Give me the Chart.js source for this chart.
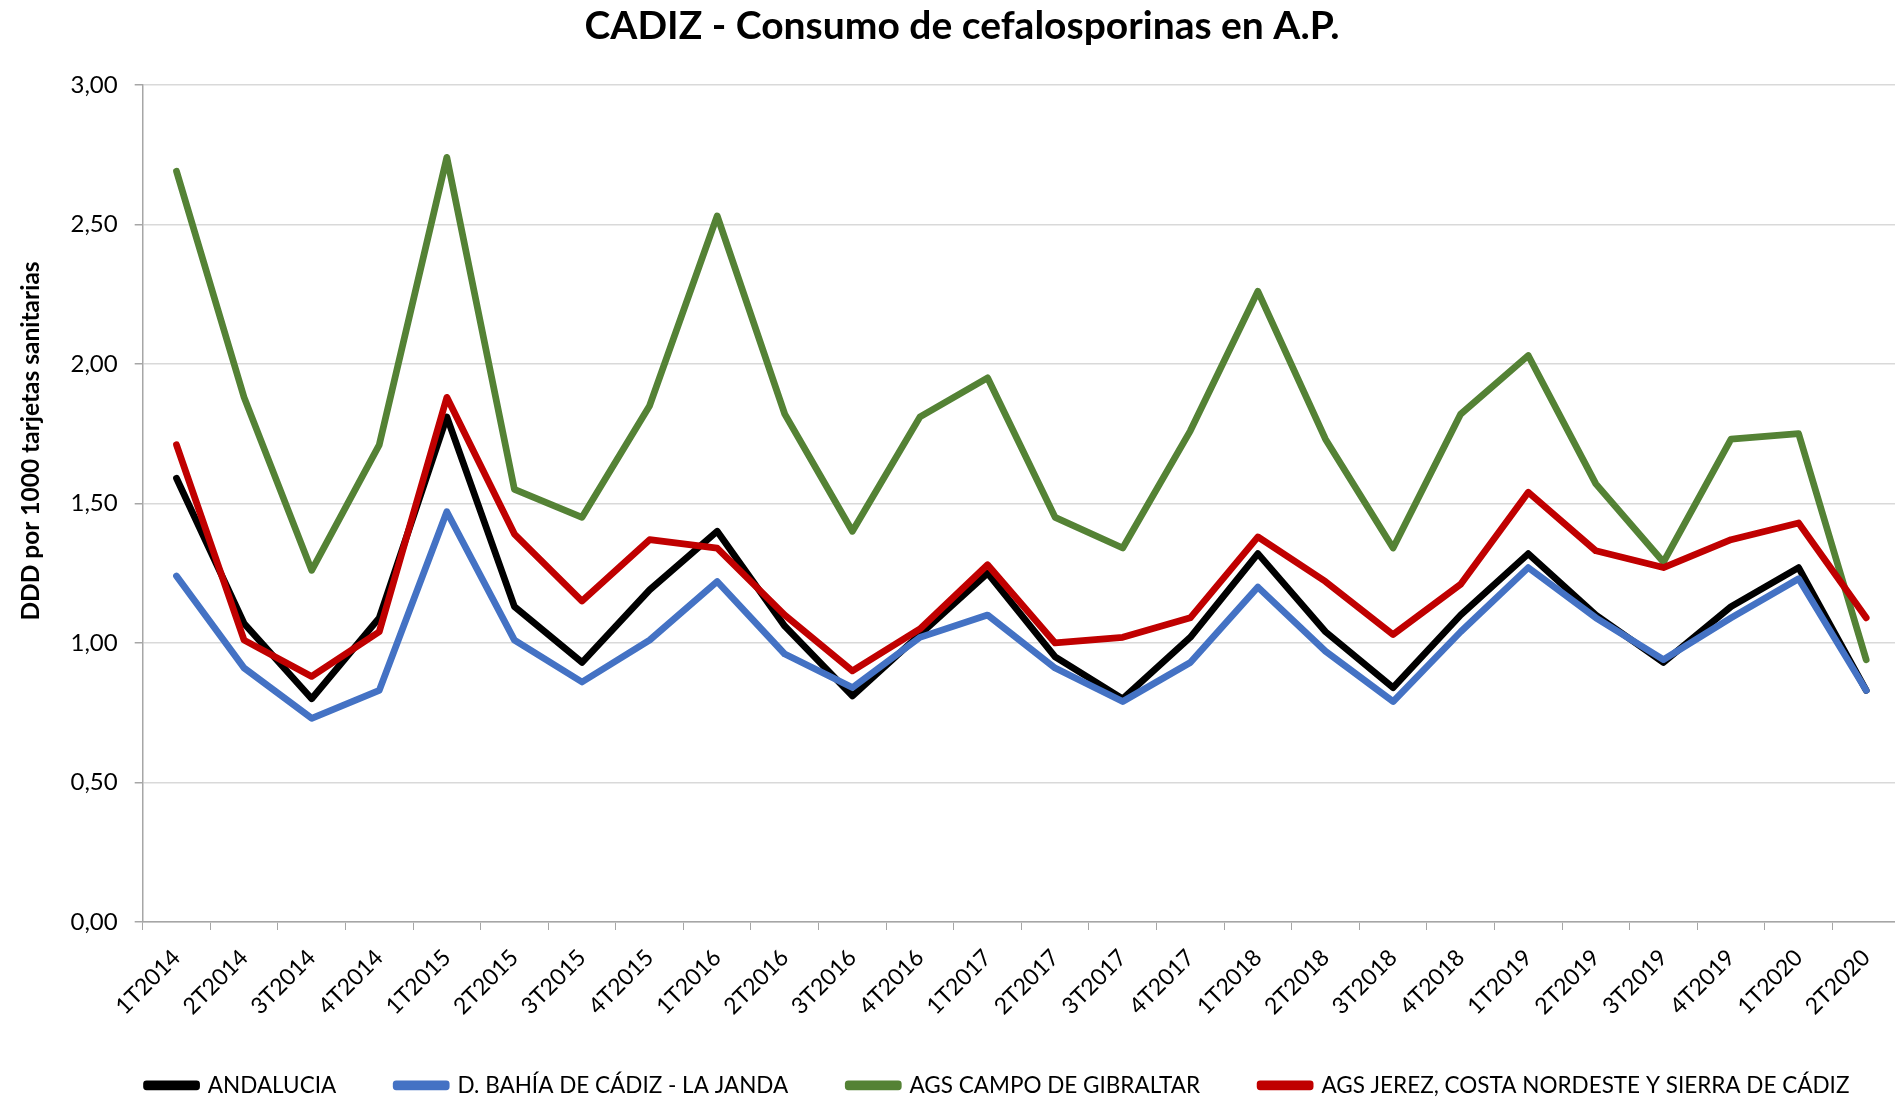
<!DOCTYPE html>
<html>
<head>
<meta charset="utf-8">
<script src="https://cdn.jsdelivr.net/npm/chart.js@4/dist/chart.umd.min.js"></script>
<style>
  html, body { margin: 0; padding: 0; background: #fff; overflow: hidden; }
  /* plot runs a few pixels past the right edge in the original */
  #wrap { width: 1900px; height: 1099px; position: relative; }
</style>
</head>
<body>
<div id="wrap"><canvas id="chart"></canvas></div>
<script>
const labels = ["1T2014", "2T2014", "3T2014", "4T2014", "1T2015", "2T2015", "3T2015", "4T2015",
  "1T2016", "2T2016", "3T2016", "4T2016", "1T2017", "2T2017", "3T2017", "4T2017",
  "1T2018", "2T2018", "3T2018", "4T2018", "1T2019", "2T2019", "3T2019", "4T2019",
  "1T2020", "2T2020"];

const andalucia = [1.59, 1.07, 0.80, 1.09, 1.81, 1.13, 0.93, 1.19, 1.40, 1.06, 0.81, 1.03, 1.25,
  0.95, 0.80, 1.02, 1.32, 1.04, 0.84, 1.10, 1.32, 1.10, 0.93, 1.13, 1.27, 0.83];
const bahiaJanda = [1.24, 0.91, 0.73, 0.83, 1.47, 1.01, 0.86, 1.01, 1.22, 0.96, 0.84, 1.02, 1.10,
  0.91, 0.79, 0.93, 1.20, 0.97, 0.79, 1.04, 1.27, 1.09, 0.94, 1.09, 1.23, 0.83];
const campoGibraltar = [2.69, 1.88, 1.26, 1.71, 2.74, 1.55, 1.45, 1.85, 2.53, 1.82, 1.40, 1.81, 1.95,
  1.45, 1.34, 1.76, 2.26, 1.73, 1.34, 1.82, 2.03, 1.57, 1.29, 1.73, 1.75, 0.94];
const jerezSierra = [1.71, 1.01, 0.88, 1.04, 1.88, 1.39, 1.15, 1.37, 1.34, 1.10, 0.90, 1.05, 1.28,
  1.00, 1.02, 1.09, 1.38, 1.22, 1.03, 1.21, 1.54, 1.33, 1.27, 1.37, 1.43, 1.09];

const seriesNames = ["ANDALUCIA", "D. BAHÍA DE CÁDIZ - LA JANDA", "AGS CAMPO DE GIBRALTAR",
  "AGS JEREZ, COSTA NORDESTE Y SIERRA DE CÁDIZ"];
const seriesColors = ["#000000", "#4472C4", "#548235", "#C00000"];
const seriesData = [andalucia, bahiaJanda, campoGibraltar, jerezSierra];

const FONT = "Lato, 'Open Sans', sans-serif";
const AXIS_GREY = "#a6a6a6";
const yTitleText = "DDD por 1000 tarjetas sanitarias";

// legend: small box in the layout, then moved to where the original has it
const legendTweak = {
  id: "legendTweak",
  beforeInit(chart) {
    const orig = chart.legend.fit;
    chart.legend.fit = function () {
      orig.call(this);
      this.height = 67;
    };
  },
  afterLayout(chart) {
    const lg = chart.legend;
    lg.left += 36;
    lg.right += 36;
    lg.top = 1014;
    lg.bottom = 1099;
  }
};

// y axis title sits above the middle of the axis in the original
const yTitle = {
  id: "yTitle",
  afterDraw(chart) {
    const ctx = chart.ctx;
    ctx.save();
    ctx.translate(31, 441);
    ctx.rotate(-Math.PI / 2);
    ctx.font = "bold 24.5px " + FONT;
    ctx.fillStyle = "#000";
    ctx.textAlign = "center";
    ctx.textBaseline = "middle";
    ctx.fillText(yTitleText, 0, 0);
    ctx.restore();
  }
};

const datasets = seriesData.map((data, i) => ({
  label: seriesNames[i],
  data: data,
  borderColor: seriesColors[i],
  backgroundColor: seriesColors[i],
  borderWidth: 6.75,
  borderJoinStyle: "round",
  borderCapStyle: "round",
  pointRadius: 0,
  pointHoverRadius: 0,
  tension: 0,
  fill: false,
  order: seriesData.length - i   // later series on top, like Excel
}));

new Chart(document.getElementById("chart"), {
  type: "line",
  data: { labels: labels, datasets: datasets },
  plugins: [legendTweak, yTitle],
  options: {
    responsive: true,
    maintainAspectRatio: false,
    animation: false,
    layout: { padding: { left: 24, right: 0, top: 0, bottom: 0 } },
    plugins: {
      title: {
        display: true,
        text: "CADIZ - Consumo de cefalosporinas en A.P.",
        color: "#000",
        font: { family: FONT, size: 39, weight: "bold" },
        padding: { top: 3, bottom: 35 }
      },
      legend: {
        position: "bottom",
        labels: {
          color: "#000",
          font: { family: FONT, size: 22.5 },
          boxWidth: 50,
          boxHeight: 3,
          padding: 60,
          sort: (a, b) => a.datasetIndex - b.datasetIndex
        }
      },
      tooltip: { enabled: false }
    },
    scales: {
      x: {
        offset: true,
        grid: { display: true, drawOnChartArea: false, offset: true, tickLength: 8, tickColor: AXIS_GREY, color: AXIS_GREY },
        border: { color: AXIS_GREY, width: 1.5 },
        ticks: {
          color: "#000",
          font: { family: FONT, size: 23 },
          minRotation: 45,
          maxRotation: 45,
          autoSkip: false,
          padding: 14
        },
        afterFit(scale) { scale.height = 110; }
      },
      y: {
        min: 0,
        max: 3,
        grid: { color: "#d9d9d9", lineWidth: 1.5, tickLength: 8, tickColor: AXIS_GREY },
        border: { color: AXIS_GREY, width: 1.5 },
        ticks: {
          stepSize: 0.5,
          color: "#000",
          font: { family: FONT, size: 24 },
          padding: 17,
          callback: (v) => Number(v).toFixed(2).replace(".", ",")
        },
        afterFit(scale) { scale.width = 118.7; }
      }
    }
  }
});
</script>
</body>
</html>
